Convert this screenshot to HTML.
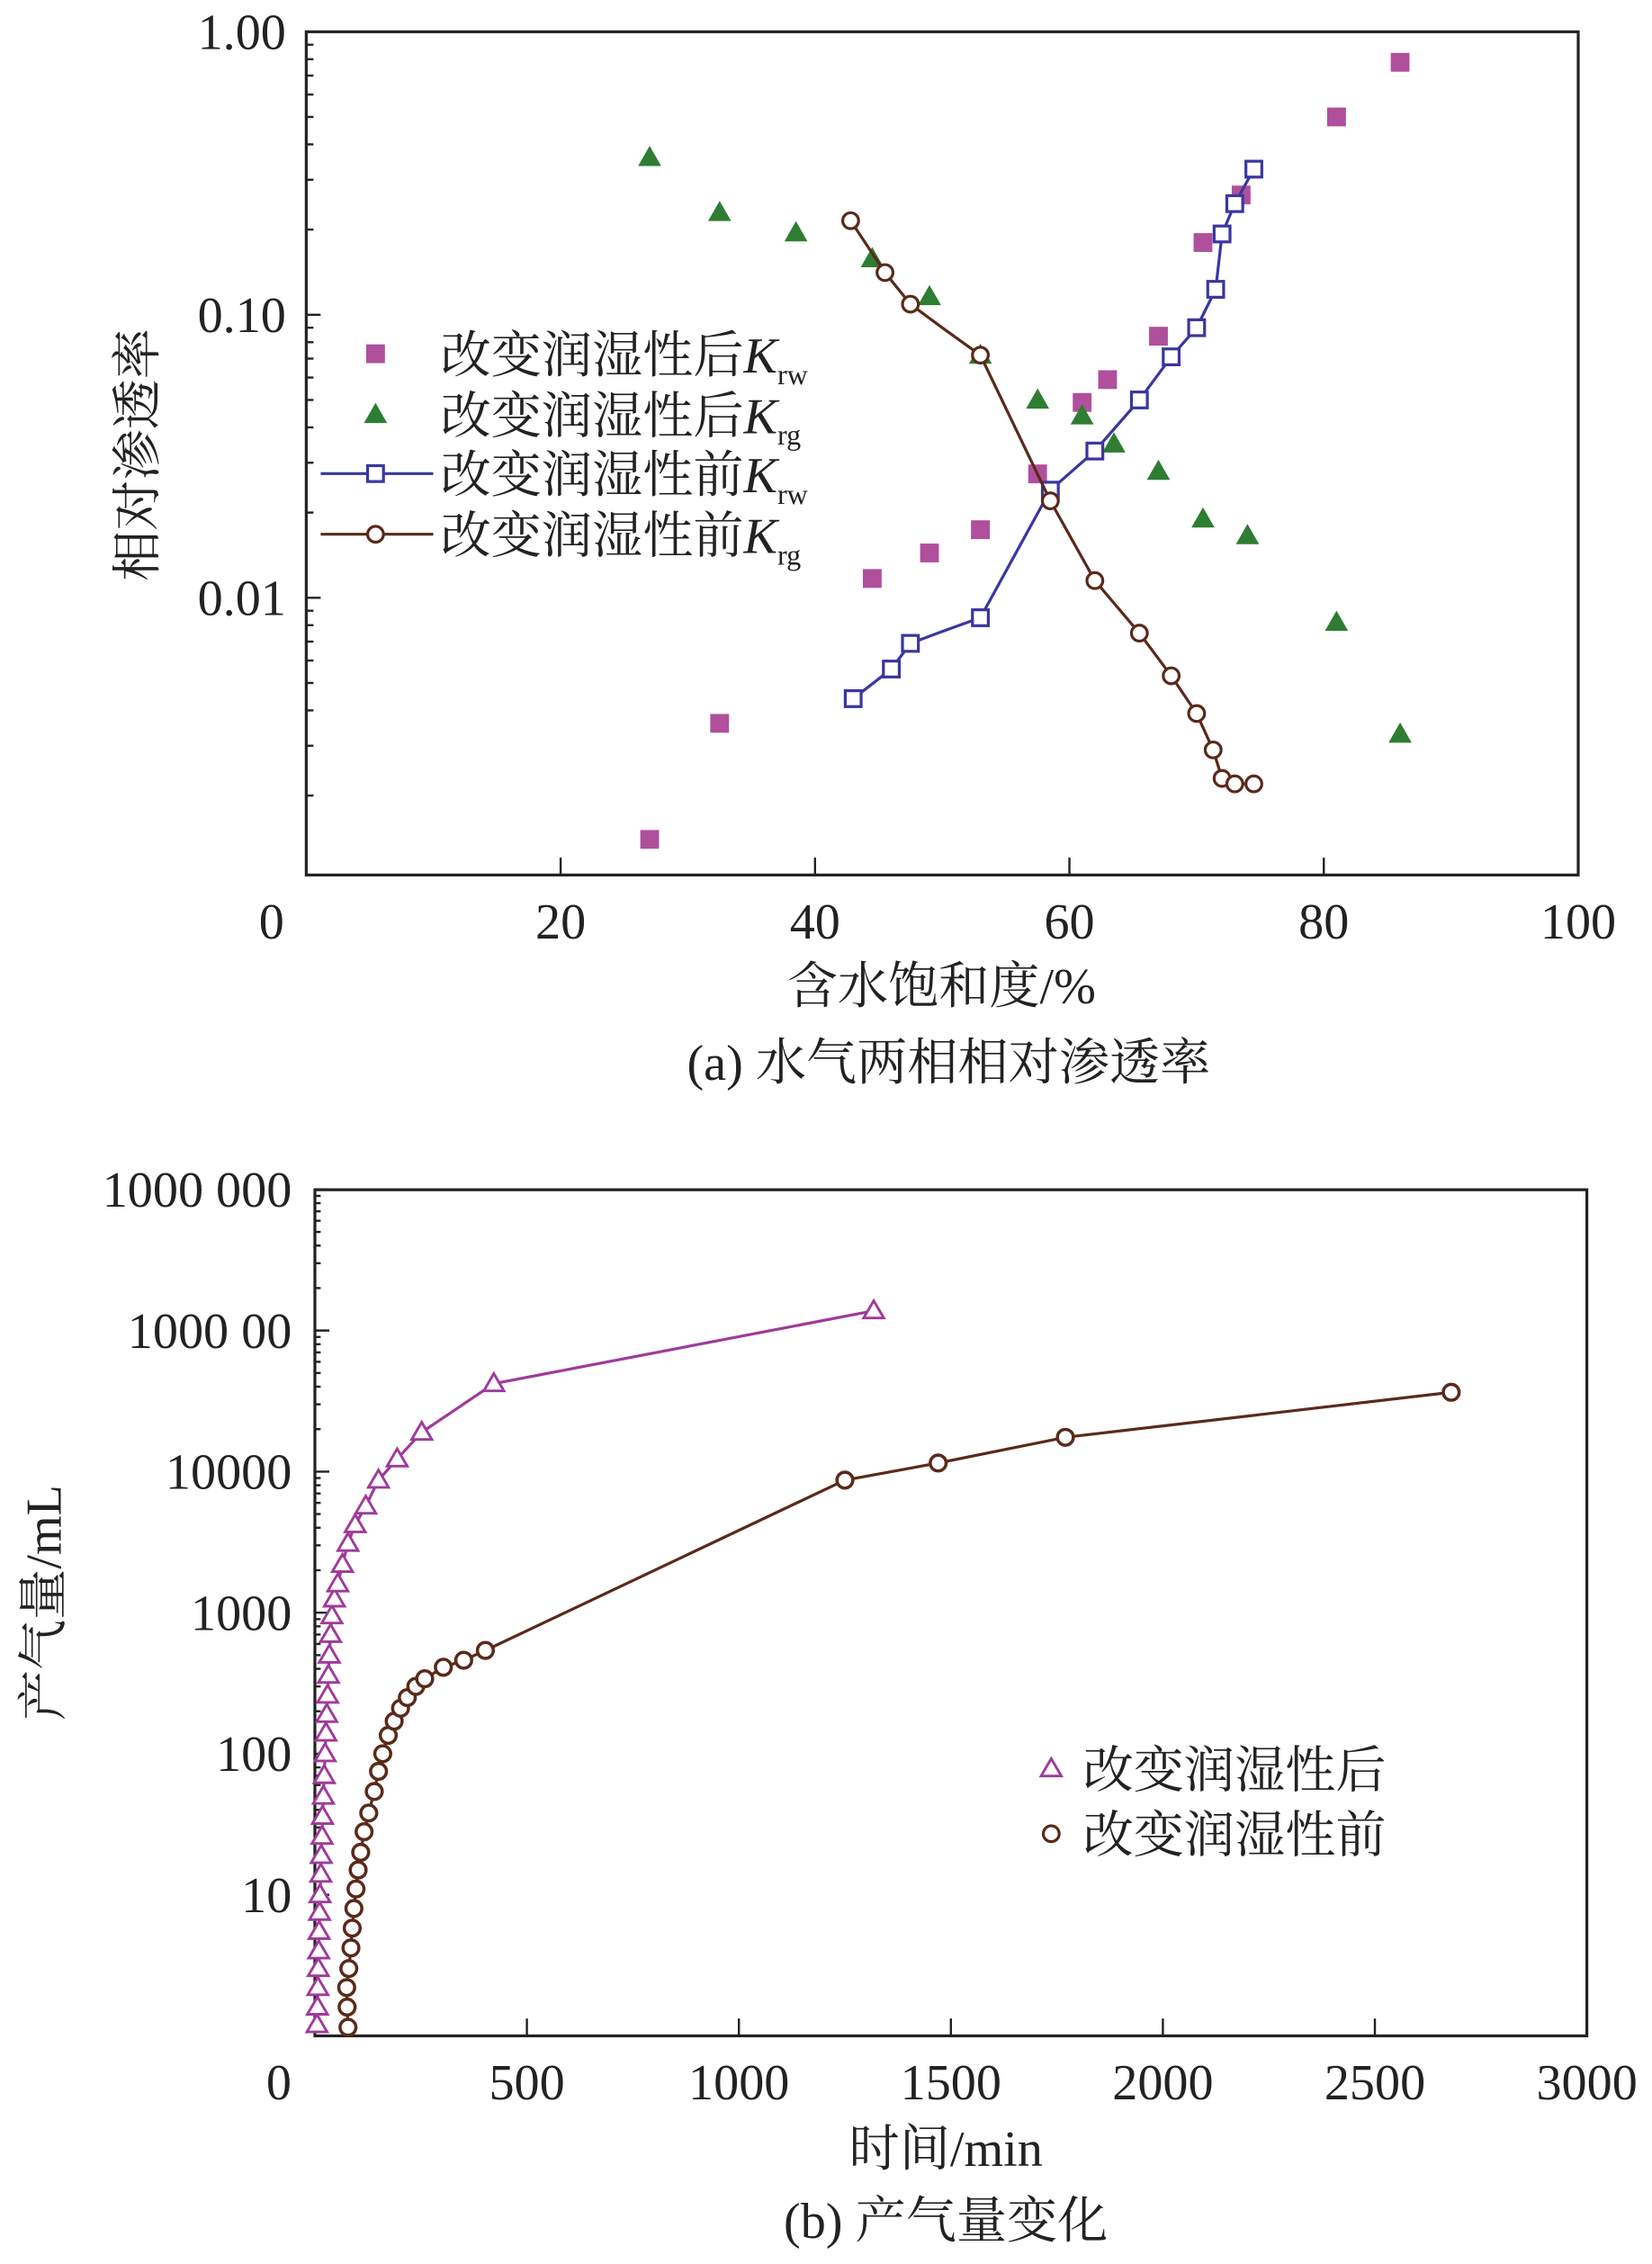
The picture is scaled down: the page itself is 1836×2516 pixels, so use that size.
<!DOCTYPE html>
<html><head><meta charset="utf-8">
<style>
html,body{margin:0;padding:0;background:#fff;}
svg{display:block;}
text{font-family:"Liberation Serif","Noto Serif CJK SC","Noto Sans CJK SC",serif;fill:#222;}
</style></head>
<body>
<svg id="fig" width="1836" height="2516" viewBox="0 0 1144 1568" xmlns="http://www.w3.org/2000/svg">
<g id="chartA"></g>
<g id="chartB"></g>
</svg>
<script>
// ---- Chart (a) data ----
const aXTicks = [0,20,40,60,80,100];
const aYTicks = [1.00,0.10,0.01];
const aYTickLabels = ["1.00","0.10","0.01"];
const krwAfterX = [27,32.5,44.5,49,53,57.5,61,63,67,70.5,73.5,81,86];
const krwAfterY = [0.0014,0.0036,0.0117,0.0144,0.0174,0.0274,0.049,0.059,0.084,0.18,0.265,0.50,0.78];
const krgAfterX = [27,32.5,38.5,44.5,49,53,57.5,61,63.5,67,70.5,74,81,86];
const krgAfterY = [0.36,0.23,0.195,0.158,0.116,0.072,0.050,0.044,0.035,0.028,0.019,0.0166,0.0082,0.0033];
const krwBeforeX = [43,46,47.5,50,53,58.5,62,65.5,68,70,71.5,72,73,74.5];
const krwBeforeY = [0.0044,0.0056,0.0069,0.0076,0.0085,0.024,0.033,0.050,0.071,0.090,0.123,0.193,0.247,0.327];
const krwBeforeMark = [1,1,1,0,1,1,1,1,1,1,1,1,1,1];
const krgBeforeX = [42.8,45.5,47.5,50,53,58.5,62,65.5,68,70,71.3,72,73,74.5];
const krgBeforeY = [0.215,0.141,0.109,0.090,0.072,0.022,0.0115,0.0075,0.0053,0.0039,0.0029,0.0023,0.0022,0.0022];
const krgBeforeMark = [1,1,1,0,1,1,1,1,1,1,1,1,1,1];
// ---- Chart (b) data ----
const bXTicks = [0,500,1000,1500,2000,2500,3000];
const bYTicks = [1000000,100000,10000,1000,100,10];
const bYTickLabels = ["1000 000","1000 00","10000","1000","100","10"];
const afterT = [5,6,7,8,9,10,11,12,14,15,17,18,20,22,24,26,28,30,32,34,37,40,46,54,65,78,95,120,150,194,252,422,1318];
const afterV = [1.2,1.6,2.2,3,4,5.5,7.5,10,14,19,26,36,50,70,100,140,190,260,360,500,700,950,1250,1600,2200,3100,4200,5700,8700,12300,19000,42000,138000];
const beforeT = [78,76,75,80,85,88,92,97,102,108,116,127,140,150,160,173,187,202,218,238,259,303,351,402,1250,1470,1770,2680];
const beforeV = [1.15,1.6,2.2,3,4.2,5.8,8,11,15,20,28,38,54,75,100,135,170,210,250,300,340,410,460,540,8700,11500,17500,36500];

const NS="http://www.w3.org/2000/svg";
function mk(parent,tag,attrs,txt){const e=document.createElementNS(NS,tag);for(const k in attrs)e.setAttribute(k,attrs[k]);if(txt!==undefined)e.textContent=txt;parent.appendChild(e);return e;}

// ===== Chart A =====
const A=document.getElementById('chartA');
const aL=212,aR=1093,aT=22,aB=606;
const ax=v=>aL+(v-0)/100*(aR-aL);
const ay=v=>aT+(-Math.log10(v))*196;
let frame=mk(A,'rect',{x:aL,y:aT,width:aR-aL,height:aB-aT,fill:'none',stroke:'#222','stroke-width':2});


aXTicks.forEach(t=>{
  if(t>0&&t<100){const l=mk(A,'line',{x1:ax(t),x2:ax(t),y1:aB,y2:aB-12,stroke:'#222','stroke-width':1.5});
  
  }
  const tx=mk(A,'text',{x:t===0?188:ax(t),y:650,'font-size':35,'text-anchor':'middle'},String(t));
  
  
});
aYTicks.forEach((t,i)=>{
  const l=mk(A,'line',{x1:aL,x2:aL+10,y1:ay(t),y2:ay(t),stroke:'#222','stroke-width':1.5});
  
  
  const tx=mk(A,'text',{x:198,y:ay(t)+12,'font-size':35,'text-anchor':'end'},aYTickLabels[i]);
  
  
});
for(let d=0;d<3;d++){for(let m=2;m<10;m++){const v=Math.pow(10,-d-1)*m;const y=ay(v);if(y<aB){const l=mk(A,'line',{x1:aL,x2:aL+5,y1:y,y2:y,stroke:'#222','stroke-width':1.5});

}}}
function polyline(g,xs,ys,fx,fy,color,name){const p=xs.map((x,i)=>fx(x)+','+fy(ys[i])).join(' ');const e=mk(g,'polyline',{points:p,fill:'none',stroke:color,'stroke-width':2});

}
krwAfterX.forEach((x,i)=>{const e=mk(A,'rect',{x:ax(x)-6.5,y:ay(krwAfterY[i])-6.5,width:13,height:13,fill:'#b04f9c'});

});
krgAfterX.forEach((x,i)=>{const cx=ax(x),cy=ay(krgAfterY[i]);const e=mk(A,'polygon',{points:`${cx},${cy-8} ${cx-8},${cy+6} ${cx+8},${cy+6}`,fill:'#2e7d32'});

});
polyline(A,krwBeforeX,krwBeforeY,ax,ay,'#3a36a0','krw-before-line');
krwBeforeX.forEach((x,i)=>{if(!krwBeforeMark[i])return;const e=mk(A,'rect',{x:ax(x)-5.5,y:ay(krwBeforeY[i])-5.5,width:11,height:11,fill:'#fff',stroke:'#3a36a0','stroke-width':2});

});
polyline(A,krgBeforeX,krgBeforeY,ax,ay,'#5a2a1a','krg-before-line');
krgBeforeX.forEach((x,i)=>{if(!krgBeforeMark[i])return;const e=mk(A,'circle',{cx:ax(x),cy:ay(krgBeforeY[i]),r:5.5,fill:'#fff',stroke:'#5a2a1a','stroke-width':2});

});
const legA=mk(A,'g',{});


const legRows=[{y:245,sub:'rw',kind:'sq'},{y:287,sub:'rg',kind:'tri'},{y:328,sub:'rw',kind:'line-sq',pre:'前'},{y:370,sub:'rg',kind:'line-c',pre:'前'}];
legRows.forEach(r=>{
  const cx=260,cy=r.y;
  if(r.kind==='sq')mk(legA,'rect',{x:cx-6.5,y:cy-6.5,width:13,height:13,fill:'#b04f9c'});
  if(r.kind==='tri')mk(legA,'polygon',{points:`${cx},${cy-8} ${cx-8},${cy+6} ${cx+8},${cy+6}`,fill:'#2e7d32'});
  if(r.kind==='line-sq'){mk(legA,'line',{x1:222,x2:300,y1:cy,y2:cy,stroke:'#3a36a0','stroke-width':2});mk(legA,'rect',{x:cx-5.5,y:cy-5.5,width:11,height:11,fill:'#fff',stroke:'#3a36a0','stroke-width':2});}
  if(r.kind==='line-c'){mk(legA,'line',{x1:222,x2:300,y1:cy,y2:cy,stroke:'#5a2a1a','stroke-width':2});mk(legA,'circle',{cx:cx,cy:cy,r:5.5,fill:'#fff',stroke:'#5a2a1a','stroke-width':2});}
  const t=mk(legA,'text',{x:305,y:cy+13,'font-size':35});
  
  
  mk(t,'tspan',{},'改变润湿性'+(r.pre||'后'));
  mk(t,'tspan',{'font-style':'italic'},'K');
  mk(t,'tspan',{'font-size':20,dy:8},r.sub);
});
let t1=mk(A,'text',{x:652,y:695,'font-size':35,'text-anchor':'middle'},'含水饱和度/%');


let t2=mk(A,'text',{x:0,y:0,'font-size':35,'text-anchor':'middle',transform:'translate(107,315) rotate(-90)'},'相对渗透率');


let t3=mk(A,'text',{x:657,y:748,'font-size':35,'text-anchor':'middle'},'(a) 水气两相相对渗透率');



// ===== Chart B =====
const B=document.getElementById('chartB');
const bL=218,bR=1099,bT=824,bB=1410;
const bx=v=>bL+v/3000*(bR-bL);
const by=v=>bB-Math.log10(v)*97.7;
let fr=mk(B,'rect',{x:bL,y:bT,width:bR-bL,height:bB-bT,fill:'none',stroke:'#222','stroke-width':2});


bXTicks.forEach(t=>{
  if(t>0&&t<3000){const l=mk(B,'line',{x1:bx(t),x2:bx(t),y1:bB,y2:bB-12,stroke:'#222','stroke-width':1.5});
  
  }
  const tx=mk(B,'text',{x:t===0?193:bx(t),y:1454,'font-size':35,'text-anchor':'middle'},String(t));
  
  
});
bYTicks.forEach((t,i)=>{
  const l=mk(B,'line',{x1:bL,x2:bL+10,y1:by(t),y2:by(t),stroke:'#222','stroke-width':1.5});
  
  
  const tx=mk(B,'text',{x:202,y:by(t)+12,'font-size':35,'text-anchor':'end'},bYTickLabels[i]);
  
  
});
for(let d=0;d<6;d++){for(let m=2;m<10;m++){const y=by(Math.pow(10,d)*m);const l=mk(B,'line',{x1:bL,x2:bL+4,y1:y,y2:y,stroke:'#222','stroke-width':1.5});

}}
polyline(B,afterT,afterV,bx,by,'#a03a9a','after-line');
afterT.forEach((x,i)=>{const cx=bx(x),cy=by(afterV[i]);const e=mk(B,'polygon',{points:`${cx},${cy-7} ${cx-7},${cy+5} ${cx+7},${cy+5}`,fill:'#fff',stroke:'#a03a9a','stroke-width':1.8});

});
polyline(B,beforeT,beforeV,bx,by,'#5a2a1a','before-line');
beforeT.forEach((x,i)=>{const e=mk(B,'circle',{cx:bx(x),cy:by(beforeV[i]),r:5.5,fill:'#fff',stroke:'#5a2a1a','stroke-width':2.2});

});
const legB=mk(B,'g',{});


mk(legB,'polygon',{points:'728,1218 721,1230 735,1230',fill:'#fff',stroke:'#a03a9a','stroke-width':1.8});
let lb1=mk(legB,'text',{x:750,y:1238,'font-size':35},'改变润湿性后');


mk(legB,'circle',{cx:728,cy:1270,r:5.5,fill:'#fff',stroke:'#5a2a1a','stroke-width':2});
let lb2=mk(legB,'text',{x:750,y:1283,'font-size':35},'改变润湿性前');


let t4=mk(B,'text',{x:655,y:1500,'font-size':35,'text-anchor':'middle'},'时间/min');


let t5=mk(B,'text',{x:0,y:0,'font-size':35,'text-anchor':'middle',transform:'translate(42,1110) rotate(-90)'},'产气量/mL');


let t6=mk(B,'text',{x:655,y:1550,'font-size':35,'text-anchor':'middle'},'(b) 产气量变化');


</script>
</body></html>
